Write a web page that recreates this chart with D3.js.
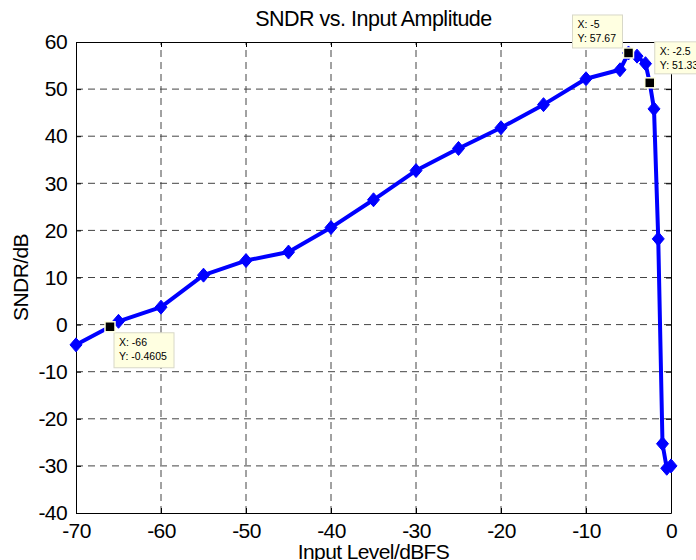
<!DOCTYPE html>
<html>
<head>
<meta charset="utf-8">
<script src="https://cdn.jsdelivr.net/npm/d3@7"></script>
<style>
  html, body { margin: 0; padding: 0; background: #fff; }
  svg { display: block; font-family: Arial, 'Liberation Sans', sans-serif; }
</style>
</head>
<body>
<svg id="chart"></svg>
<script>
// input level (dBFS) and measured SNDR (dB)
var inputLevel = [-70, -66, -65, -60, -55, -50, -45, -40, -35, -30, -25, -20, -15, -10,
  -6, -5, -4, -3, -2.5, -2, -1.5, -1, -0.5, 0]
var sndr = [-4.3, -0.4605, 0.7, 3.7, 10.5, 13.6, 15.4, 20.6, 26.5, 32.7, 37.4, 41.8, 46.7, 52.2,
  54.1, 57.67, 57.0, 55.4, 51.33, 45.8, 18.2, -25.3, -30.5, -30.0]
// points that carry a data tip
var tipX = [-66, -5, -2.5]
var xTicks = [-70, -60, -50, -40, -30, -20, -10, 0]
var yTicks = [-40, -30, -20, -10, 0, 10, 20, 30, 40, 50, 60]

var width = 696
var height = 560
var margin = { top: 42, right: 25, bottom: 47, left: 76 }

var svg = d3.select('#chart').attr('width', width).attr('height', height)

var x = d3.scaleLinear().domain([-70, 0]).range([margin.left, width - margin.right])
var y = d3.scaleLinear().domain([-40, 60]).range([height - margin.bottom, margin.top])

var data = inputLevel.map((d, i) => ({ x: d, y: sndr[i] }))

// grid
svg.append('g')
  .selectAll('line')
  .data(xTicks.slice(1, -1))
  .join('line')
  .attr('x1', (d) => x(d)).attr('x2', (d) => x(d))
  .attr('y1', y(-40)).attr('y2', y(60))
  .attr('stroke', '#444').attr('stroke-width', 1)
  .attr('stroke-dasharray', '7,5')

svg.append('g')
  .selectAll('line')
  .data(yTicks.slice(1, -1))
  .join('line')
  .attr('x1', x(-70)).attr('x2', x(0))
  .attr('y1', (d) => y(d)).attr('y2', (d) => y(d))
  .attr('stroke', '#444').attr('stroke-width', 1)
  .attr('stroke-dasharray', '7,5')

// axes (ticks pointing inward, box on all sides)
var tickFont = (g) => g.selectAll('text')
  .attr('font-size', 21).attr('fill', '#000')
  .attr('font-family', 'Arial, Liberation Sans, sans-serif')
  .style('letter-spacing', '-0.6px')

var plain = (d) => String(d)

svg.append('g')
  .attr('transform', `translate(0,${y(-40)})`)
  .call(d3.axisBottom(x).tickValues(xTicks).tickFormat(plain).tickSize(-5).tickPadding(10).tickSizeOuter(0))
  .call(tickFont)
  .call((g) => g.select('.domain').attr('stroke', '#000'))

svg.append('g')
  .attr('transform', `translate(0,${y(60)})`)
  .call(d3.axisTop(x).tickValues(xTicks).tickSize(-5).tickFormat('').tickSizeOuter(0))

svg.append('g')
  .attr('transform', `translate(${x(-70)},0)`)
  .call(d3.axisLeft(y).tickValues(yTicks).tickFormat(plain).tickSize(-5).tickPadding(9).tickSizeOuter(0))
  .call(tickFont)

svg.append('g')
  .attr('transform', `translate(${x(0)},0)`)
  .call(d3.axisRight(y).tickValues(yTicks).tickSize(-5).tickFormat('').tickSizeOuter(0))

// data line
var line = d3.line().x((d) => x(d.x)).y((d) => y(d.y))

svg.append('path')
  .datum(data)
  .attr('fill', 'none')
  .attr('stroke', '#0000ff')
  .attr('stroke-width', 4)
  .attr('stroke-linejoin', 'round')
  .attr('d', line)

// diamond markers
svg.append('g')
  .selectAll('path')
  .data(data.filter((d) => tipX.indexOf(d.x) < 0 || d.x === -5))
  .join('path')
  .attr('fill', '#0000ff')
  .attr('stroke', '#0000ff')
  .attr('d', (d) => {
    var cx = x(d.x), cy = y(d.y)
    return `M${cx},${cy - 7}L${cx + 6},${cy}L${cx},${cy + 7}L${cx - 6},${cy}Z`
  })

// data tips
var tips = [
  { x: -66, lx: 'X: -66', ly: 'Y: -0.4605', dx: 4, dy: 6, w: 60, h: 35 },
  { x: -5, lx: 'X: -5', ly: 'Y: 57.67', dx: -56, dy: -38, w: 50, h: 33 },
  { x: -2.5, lx: 'X: -2.5', ly: 'Y: 51.33', dx: 5, dy: -41, w: 60, h: 32 }
]

var tipG = svg.append('g')
tips.forEach((t) => {
  var d = data.find((p) => p.x === t.x)
  var px = x(d.x), py = y(d.y)
  var g = tipG.append('g')
  g.append('rect')
    .attr('x', px + t.dx).attr('y', py + t.dy)
    .attr('width', t.w).attr('height', t.h)
    .attr('fill', '#ffffe1').attr('stroke', '#d8d8c8').attr('stroke-width', 1)
  g.append('text')
    .attr('x', px + t.dx + 5).attr('y', py + t.dy + 13)
    .attr('font-size', 10.5).text(t.lx)
  g.append('text')
    .attr('x', px + t.dx + 5).attr('y', py + t.dy + 27)
    .attr('font-size', 10.5).text(t.ly)
  g.append('rect')
    .attr('x', px - 5).attr('y', py - 5)
    .attr('width', 10).attr('height', 10)
    .attr('fill', '#000').attr('stroke', '#ffffe1').attr('stroke-width', 1.5)
})

// title and axis labels
svg.append('text')
  .attr('x', (x(-70) + x(0)) / 2).attr('y', 26)
  .attr('text-anchor', 'middle')
  .attr('font-size', 21.5)
  .style('letter-spacing', '-0.5px')
  .text('SNDR vs. Input Amplitude')

svg.append('text')
  .attr('x', (x(-70) + x(0)) / 2).attr('y', 559)
  .attr('text-anchor', 'middle')
  .attr('font-size', 21)
  .style('letter-spacing', '-0.6px')
  .text('Input Level/dBFS')

svg.append('text')
  .attr('transform', `translate(28,${(y(-40) + y(60)) / 2}) rotate(-90)`)
  .attr('text-anchor', 'middle')
  .attr('font-size', 21)
  .style('letter-spacing', '-0.6px')
  .text('SNDR/dB')
</script>
</body>
</html>
